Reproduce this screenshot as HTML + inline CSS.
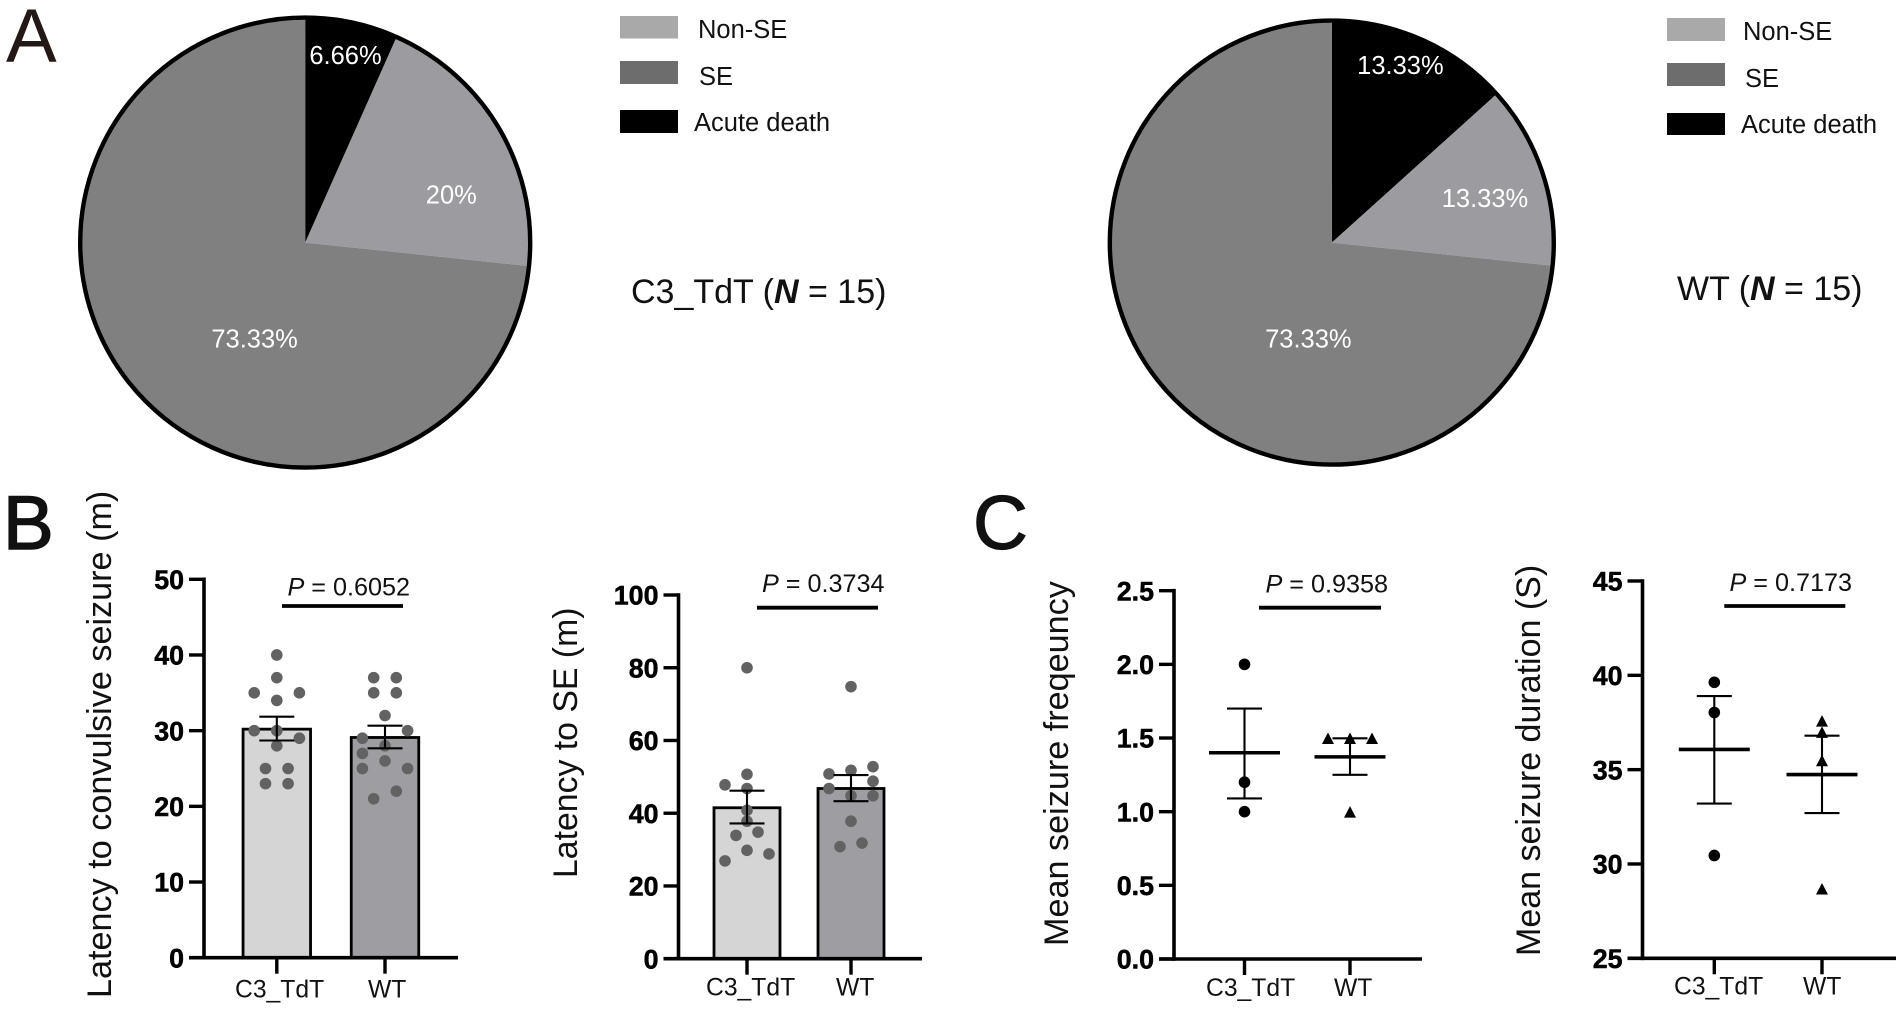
<!DOCTYPE html>
<html lang="en">
<head>
<meta charset="utf-8">
<title>Seizure outcomes in C3_TdT and WT mice</title>
<style>
html,body{margin:0;padding:0;background:#fff;width:1902px;height:1009px;overflow:hidden}
svg{display:block;font-family:"Liberation Sans",Arial,sans-serif}
.legend-text{font-size:25.5px;fill:#111}
.group-label{font-size:34px;fill:#111}
.panel-letter{font-size:76px;fill:#111}
.y-title{font-size:34px;fill:#111}
</style>
</head>
<body>
<svg id="figure" xmlns="http://www.w3.org/2000/svg" width="1902" height="1009" viewBox="0 0 1902 1009">
  <rect x="0" y="0" width="1902" height="1009" fill="#ffffff"/>

  <text class="panel-letter" x="6" y="62" style="fill:#231815">A</text>
  <text class="panel-letter" x="3" y="549" style="stroke:#111;stroke-width:1.6px">B</text>
  <text class="panel-letter" x="973" y="549" style="stroke:#111;stroke-width:1.2px">C</text>

  <g id="pie-left"></g>
  <g id="pie-right"></g>

  <g>
    <rect x="620" y="16" width="58" height="22.5" fill="#a9a9a9"/>
    <text class="legend-text" x="698" y="38">Non-SE</text>
    <rect x="620" y="61" width="58" height="23" fill="#6d6d6d"/>
    <text class="legend-text" x="699" y="85">SE</text>
    <rect x="620" y="110" width="58" height="23" fill="#000000"/>
    <text class="legend-text" x="694" y="131">Acute death</text>
  </g>
  <g>
    <rect x="1667" y="18" width="58" height="23" fill="#a9a9a9"/>
    <text class="legend-text" x="1743" y="40">Non-SE</text>
    <rect x="1667" y="63" width="58" height="23" fill="#6d6d6d"/>
    <text class="legend-text" x="1745" y="87">SE</text>
    <rect x="1667" y="113" width="58" height="22" fill="#000000"/>
    <text class="legend-text" x="1741" y="133">Acute death</text>
  </g>

  <text class="group-label" x="631" y="303">C3_TdT (<tspan font-weight="bold" font-style="italic">N</tspan> = 15)</text>
  <text class="group-label" x="1677" y="300">WT (<tspan font-weight="bold" font-style="italic">N</tspan> = 15)</text>

  <text class="y-title" transform="translate(111,998) rotate(-90)" style="font-size:34.2px">Latency to convulsive seizure (m)</text>
  <text class="y-title" transform="translate(577,878) rotate(-90)" style="font-size:33.8px">Latency to SE (m)</text>
  <text class="y-title" transform="translate(1068,946) rotate(-90)" style="font-size:34.2px">Mean seizure freqeuncy</text>
  <text class="y-title" transform="translate(1540,956) rotate(-90)">Mean seizure duration (S)</text>

  <g id="chart-b1"></g>
  <g id="chart-b2"></g>
  <g id="chart-c1"></g>
  <g id="chart-c2"></g>
</svg>

<script>
/* ---------- data ---------- */
const pieCategories = ['acute-death', 'non-se', 'se'];
const pieLeftValues = [6.66, 20, 73.33];
const pieRightValues = [13.33, 13.33, 73.33];

const groupLabels = ['C3_TdT', 'WT'];

const convulsiveTickLabels = ['0', '10', '20', '30', '40', '50'];
const convulsiveMeans = [30.2, 29.1];
const convulsiveUpper = [31.85, 30.66];
const convulsiveLower = [28.7, 27.67];
const convulsiveC3Values = [40, 37, 35, 35, 34, 30, 30, 29, 28, 25, 25, 23, 23];
const convulsiveC3Slots = [0, 0, -2, 2, 0, -2, 0, 2, 0, -1, 1, -1, 1];
const convulsiveWtValues = [37, 37, 35, 35, 32, 30, 29, 28, 27, 26, 25, 25, 22, 21];
const convulsiveWtSlots = [-1, 1, -1, 1, 0, 2, -2, 0, -2, 0, -2, 2, 1, -1];
const convulsivePLabel = '0.6052';

const seTickLabels = ['0', '20', '40', '60', '80', '100'];
const seMeans = [41.5, 46.8];
const seUpper = [46.2, 50.5];
const seLower = [37.2, 43.3];
const seC3Values = [80, 50.7, 47.8, 46.8, 40.8, 37.8, 34.8, 33.9, 29.8, 28.8, 26.9];
const seC3Slots = [0, 0, -2, 0, 0, 0, 1, -1, 0, 2, -2];
const seWtValues = [74.8, 52.8, 51.8, 50.8, 48.8, 46.8, 44.8, 44.8, 37.8, 31.8, 30.8];
const seWtSlots = [0, 2, 0, -2, 2, -2, 0, 2, 0, 1, -1];
const sePLabel = '0.3734';

const frequencyTickLabels = ['0.0', '0.5', '1.0', '1.5', '2.0', '2.5'];
const frequencyMeans = [1.40, 1.372];
const frequencyUpper = [1.70, 1.498];
const frequencyLower = [1.09, 1.25];
const frequencyC3Values = [2.0, 1.2, 1.0];
const frequencyC3Slots = [0, 0, 0];
const frequencyWtValues = [1.5, 1.5, 1.5, 1.0];
const frequencyWtSlots = [-2, 0, 2, 0];
const frequencyPLabel = '0.9358';

const durationTickLabels = ['25', '30', '35', '40', '45'];
const durationMeans = [36.07, 34.74];
const durationUpper = [38.9, 36.8];
const durationLower = [33.2, 32.7];
const durationC3Values = [39.63, 38.03, 30.45];
const durationC3Slots = [0, 0, 0];
const durationWtValues = [37.6, 37.0, 35.5, 28.7];
const durationWtSlots = [0, 0, 0, 0];
const durationPLabel = '0.7173';

/* ---------- helpers ---------- */
const NS = 'http://www.w3.org/2000/svg';
function make(tag, attrs, parent) {
  const el = document.createElementNS(NS, tag);
  for (const k in attrs) el.setAttribute(k, attrs[k]);
  parent.appendChild(el);
  return el;
}

/* ---------- pies ---------- */
const pieColors = ['#000000', '#9c9ca0', '#808080'];

function drawPie(groupId, values, layout) {
  const g = document.getElementById(groupId);
  const total = values.reduce((a, b) => a + b, 0);
  const pt = (deg, r) => {
    const a = deg * Math.PI / 180;
    return [layout.cx + r * Math.sin(a), layout.cy - r * Math.cos(a)];
  };
  let start = 0;
  values.forEach((v, i) => {
    const sweep = v / total * 360;
    const end = start + sweep;
    const p0 = pt(start, layout.r);
    const p1 = pt(end, layout.r);
    const large = sweep > 180 ? 1 : 0;
    const d = 'M' + layout.cx + ' ' + layout.cy + ' L' + p0[0] + ' ' + p0[1] +
      ' A' + layout.r + ' ' + layout.r + ' 0 ' + large + ' 1 ' + p1[0] + ' ' + p1[1] + ' Z';
    const slice = make('path', { d: d, fill: pieColors[i] }, g);
    
    
    start = end;
  });
  const ring = make('circle', { cx: layout.cx, cy: layout.cy, r: layout.r, fill: 'none', stroke: '#000', 'stroke-width': 4.4 }, g);
  
  
  start = 0;
  values.forEach((v, i) => {
    const sweep = v / total * 360;
    const mid = start + sweep / 2 + layout.labelNudge[i];
    const p = pt(mid, layout.r * layout.labelFrac[i]);
    const t = make('text', { x: p[0] + 0.6, y: p[1] + 8.4, 'text-anchor': 'middle', fill: '#fff', 'font-size': 25.5 }, g);
    t.textContent = v + '%';
    
    
    start += sweep;
  });
}

drawPie('pie-left', pieLeftValues, { cx: 305.2, cy: 242.6, r: 225, labelFrac: [0.85, 0.68, 0.485], labelNudge: [0, 12, -20] });
drawPie('pie-right', pieRightValues, { cx: 1331.8, cy: 242.6, r: 222, labelFrac: [0.855, 0.715, 0.448], labelNudge: [-3, 2, -34] });

/* ---------- scatter / bar charts ---------- */
function drawChart(groupId, spec) {
  const g = document.getElementById(groupId);
  const ticks = spec.tickLabels.map(parseFloat);
  const yMin = ticks[0];
  const yMax = ticks[ticks.length - 1];
  const yScale = v => spec.bottom - (v - yMin) / (yMax - yMin) * (spec.bottom - spec.top);
  const xScale = i => spec.xCenters[i];

  if (spec.bars) {
    spec.means.forEach((m, i) => {
      const bar = make('rect', {
        x: xScale(i) - spec.barWidth / 2, y: yScale(m), width: spec.barWidth,
        height: yScale(yMin) - yScale(m), fill: spec.barFills[i], stroke: '#000', 'stroke-width': 2.8
      }, g);
      
      
    });
  }

  const drawMarker = (gi, v, slot) => {
    const x = xScale(gi) + slot * spec.slotWidth;
    const y = yScale(v);
    if (gi === 1 && spec.triangles) {
      const tri = make('polygon', {
        points: x + ',' + (y - 5.5) + ' ' + (x + 6) + ',' + (y + 6) + ' ' + (x - 6) + ',' + (y + 6),
        fill: '#000'
      }, g);
      
      
    } else {
      const c = make('circle', { cx: x, cy: y, r: spec.pointRadius, fill: spec.pointFill }, g);
      
      
    }
  };
  spec.series.forEach((s, gi) => {
    s.values.forEach((v, j) => drawMarker(gi, v, s.slots[j]));
  });

  spec.means.forEach((m, i) => {
    const x = xScale(i);
    const stem = make('line', { x1: x, x2: x, y1: yScale(spec.upper[i]), y2: yScale(spec.lower[i]), stroke: '#000', 'stroke-width': 2.1 }, g);
    
    
    const capTop = make('line', { x1: x - 17.5, x2: x + 17.5, y1: yScale(spec.upper[i]), y2: yScale(spec.upper[i]), stroke: '#000', 'stroke-width': 2.1 }, g);
    
    
    const capBottom = make('line', { x1: x - 17.5, x2: x + 17.5, y1: yScale(spec.lower[i]), y2: yScale(spec.lower[i]), stroke: '#000', 'stroke-width': 2.1 }, g);
    
    
    if (!spec.bars) {
      const meanLine = make('line', { x1: x - 35.5, x2: x + 35.5, y1: yScale(m), y2: yScale(m), stroke: '#000', 'stroke-width': 3.6 }, g);
      
      
    }
  });

  const yAxis = make('line', { x1: spec.axisX, x2: spec.axisX, y1: spec.top - 1.8, y2: spec.bottom + 1.8, stroke: '#000', 'stroke-width': 3.6 }, g);
  
  
  const xAxis = make('line', { x1: spec.axisX - 15, x2: spec.axisEnd, y1: spec.bottom, y2: spec.bottom, stroke: '#000', 'stroke-width': 3.6 }, g);
  
  

  spec.tickLabels.forEach((lab, i) => {
    const y = yScale(ticks[i]);
    const tick = make('line', { x1: spec.axisX - 15, x2: spec.axisX, y1: y, y2: y, stroke: '#000', 'stroke-width': 3.4 }, g);
    
    
    const t = make('text', { x: spec.axisX - 20, y: y + 9.6, 'text-anchor': 'end', 'font-size': 26.8, 'font-weight': 'bold', fill: '#000', stroke: '#000', 'stroke-width': 0.5 }, g);
    t.textContent = lab;
    
    
  });

  spec.groups.forEach((name, i) => {
    const x = xScale(i);
    const tick = make('line', { x1: x, x2: x, y1: spec.bottom, y2: spec.bottom + 16, stroke: '#000', 'stroke-width': 3.4 }, g);
    
    
    const t = make('text', { x: spec.xLabelX[i], y: spec.xLabelY, 'font-size': 24.7, fill: '#111' }, g);
    t.textContent = name;
    
    
  });

  const pText = make('text', { x: spec.pX, y: spec.pY, 'font-size': 25.2, fill: '#111' }, g);
  
  
  const pItalic = make('tspan', { 'font-style': 'italic' }, pText);
  pItalic.textContent = 'P';
  pText.appendChild(document.createTextNode(' = ' + spec.pLabel));
  const pLine = make('line', { x1: spec.pLine[0], x2: spec.pLine[1], y1: spec.pLineY, y2: spec.pLineY, stroke: '#000', 'stroke-width': 3.8 }, g);
  
  
}

drawChart('chart-b1', {
  groups: groupLabels, tickLabels: convulsiveTickLabels,
  means: convulsiveMeans, upper: convulsiveUpper, lower: convulsiveLower,
  series: [{ values: convulsiveC3Values, slots: convulsiveC3Slots }, { values: convulsiveWtValues, slots: convulsiveWtSlots }],
  bars: true, barWidth: 67.5, barFills: ['#d5d5d5', '#9e9ea2'],
  pointRadius: 5.8, pointFill: '#626262', slotWidth: 11.3,
  axisX: 204, axisEnd: 458, top: 579.3, bottom: 957.7, xCenters: [276.8, 385],
  xLabelX: [235, 368], xLabelY: 997.7,
  pLabel: convulsivePLabel, pX: 287.5, pY: 595.5, pLine: [282, 403], pLineY: 606
});
drawChart('chart-b2', {
  groups: groupLabels, tickLabels: seTickLabels,
  means: seMeans, upper: seUpper, lower: seLower,
  series: [{ values: seC3Values, slots: seC3Slots }, { values: seWtValues, slots: seWtSlots }],
  bars: true, barWidth: 66, barFills: ['#d5d5d5', '#9e9ea2'],
  pointRadius: 5.8, pointFill: '#626262', slotWidth: 11,
  axisX: 678.5, axisEnd: 922, top: 595, bottom: 958.7, xCenters: [747, 851],
  xLabelX: [706, 836], xLabelY: 995.7,
  pLabel: sePLabel, pX: 762, pY: 592, pLine: [757, 878], pLineY: 607.7
});
drawChart('chart-c1', {
  groups: groupLabels, tickLabels: frequencyTickLabels,
  means: frequencyMeans, upper: frequencyUpper, lower: frequencyLower,
  series: [{ values: frequencyC3Values, slots: frequencyC3Slots }, { values: frequencyWtValues, slots: frequencyWtSlots }],
  bars: false, triangles: true,
  pointRadius: 5.8, pointFill: '#000', slotWidth: 11,
  axisX: 1174, axisEnd: 1422, top: 590.7, bottom: 959, xCenters: [1244.5, 1350],
  xLabelX: [1206, 1334], xLabelY: 996,
  pLabel: frequencyPLabel, pX: 1265.5, pY: 592.3, pLine: [1259, 1381], pLineY: 607.7
});
drawChart('chart-c2', {
  groups: groupLabels, tickLabels: durationTickLabels,
  means: durationMeans, upper: durationUpper, lower: durationLower,
  series: [{ values: durationC3Values, slots: durationC3Slots }, { values: durationWtValues, slots: durationWtSlots }],
  bars: false, triangles: true,
  pointRadius: 5.8, pointFill: '#000', slotWidth: 11,
  axisX: 1642.5, axisEnd: 1896, top: 581, bottom: 958.3, xCenters: [1714.3, 1822],
  xLabelX: [1674, 1803], xLabelY: 994.5,
  pLabel: durationPLabel, pX: 1729.5, pY: 591, pLine: [1724.3, 1845.3], pLineY: 606
});
</script>
</body>
</html>
